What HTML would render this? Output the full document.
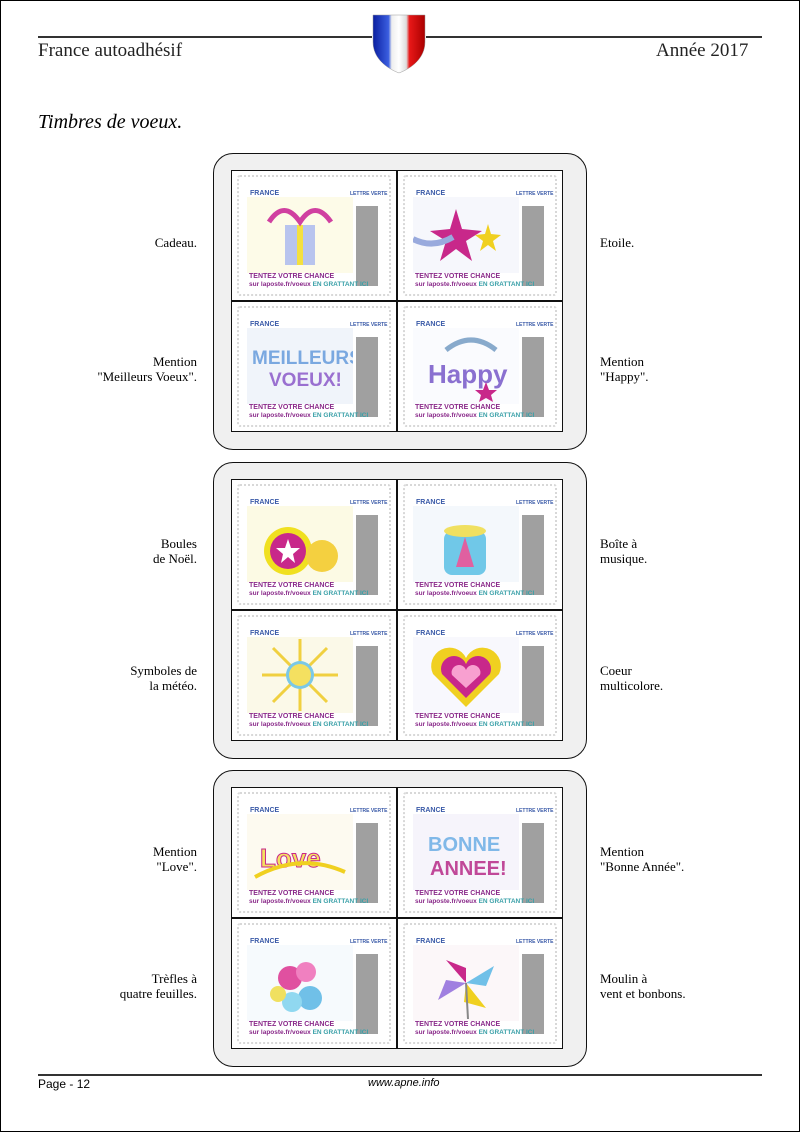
<!DOCTYPE html>
<html><head><meta charset="utf-8">
<style>
*{margin:0;padding:0;box-sizing:border-box}
body{width:800px;height:1132px;background:#fff;position:relative;overflow:hidden;font-family:"Liberation Serif",serif}
.frame{position:absolute;left:0;top:0;width:800px;height:1132px;border:1px solid #000}
.abs{position:absolute}
.hl{position:absolute;height:2px;background:#333}
.box{position:absolute;left:213px;width:374px;height:297px;border:1.5px solid #111;border-radius:20px;background:#f0f0f0}
.grid{position:absolute;left:17px;top:16px;width:332px;height:262px;border:1.5px solid #111;background:#111}
.cell{position:absolute;width:164px;height:129px;background:#fff;overflow:hidden}
.stamp{position:absolute;left:5px;top:4px;width:154px;height:121px;border:2px dotted #d8d8d8;border-radius:3px;background:#fff}
.fr{position:absolute;left:11px;top:13px;font:bold 7px "Liberation Sans",sans-serif;color:#3a5aa8}
.lv{position:absolute;left:111px;top:14px;font:bold 5px "Liberation Sans",sans-serif;color:#3a5aa8}
.gr{position:absolute;left:117px;top:29px;width:22px;height:80px;background:#a0a0a0}
.t1{position:absolute;left:10px;top:96px;font:bold 7px "Liberation Sans",sans-serif;color:#8a2a8a;white-space:nowrap}
.t2{position:absolute;left:10px;top:104px;font:bold 6.5px "Liberation Sans",sans-serif;color:#8a2a8a;white-space:nowrap}
.t2 b{color:#3aa0a8}
.art{position:absolute;left:8px;top:20px;width:106px;height:76px}
.lab{position:absolute;font-size:13px;line-height:15px;color:#000}
.l{right:603px;text-align:right}
.r{left:600px}
</style></head><body>
<div class="frame"></div>
<div class="hl" style="left:38px;top:36px;width:334px"></div>
<div class="hl" style="left:426px;top:36px;width:336px"></div>
<div class="abs" style="left:38px;top:40px;font-size:19px;color:#222">France autoadhésif</div>
<div class="abs" style="left:656px;top:40px;font-size:19px;color:#222">Année 2017</div>
<svg class="abs" style="left:372px;top:14px" width="54" height="60" viewBox="0 0 54 60">
<defs><linearGradient id="g" x1="0" x2="1"><stop offset="0" stop-color="#0a1fa0"/><stop offset=".3" stop-color="#3b5ee0"/><stop offset=".36" stop-color="#eee"/><stop offset=".5" stop-color="#fff"/><stop offset=".64" stop-color="#ddd"/><stop offset=".7" stop-color="#e81818"/><stop offset="1" stop-color="#a00"/></linearGradient></defs>
<path d="M1 1 H53 V28 C53 44 40 54 27 59 C14 54 1 44 1 28 Z" fill="url(#g)" stroke="#999" stroke-width=".5"/></svg>
<div class="abs" style="left:38px;top:111px;font-size:20px;font-style:italic">Timbres de voeux.</div>

<div id="c"></div>

<div class="hl" style="left:38px;top:1074px;width:724px"></div>
<div class="abs" style="left:38px;top:1077px;font:12px 'Liberation Sans',sans-serif">Page - 12</div>
<div class="abs" style="left:368px;top:1077px;font:italic 11px 'Liberation Sans',sans-serif">www.apne.info</div>

<script>
var tops=[153,462,770];
var labs=[["Cadeau.","Etoile.","Mention<br>\"Meilleurs Voeux\".","Mention<br>\"Happy\"."],
["Boules<br>de Noël.","Boîte à<br>musique.","Symboles de<br>la météo.","Coeur<br>multicolore."],
["Mention<br>\"Love\".","Mention<br>\"Bonne Année\".","Trèfles à<br>quatre feuilles.","Moulin à<br>vent et bonbons."]];
var arts=[
['<rect x="38" y="28" width="30" height="40" fill="#b8c4ee"/><rect x="50" y="28" width="6" height="40" fill="#f4e040"/><path d="M22 25 Q37 2 53 25 Q68 2 84 25" stroke="#d040a0" stroke-width="5" fill="none"/>','#fdfbe8'],
['<polygon points="43,12 49,32 69,34 53,44 59,64 43,52 27,64 33,44 17,34 37,32" fill="#c8288a"/><polygon points="75,27 78,37 88,38 80,44 83,54 75,48 67,54 70,44 62,38 72,37" fill="#f0d020"/><path d="M0 42 Q20 52 40 40" stroke="#9ad" stroke-width="6" fill="none"/>','#f6f7fc'],
['<text x="5" y="36" font-family="Liberation Sans" font-weight="bold" font-size="19" fill="#7aa8e0">MEILLEURS</text><text x="22" y="58" font-family="Liberation Sans" font-weight="bold" font-size="19" fill="#9a70d0">VOEUX!</text>','#f0f4fa'],
['<text x="15" y="55" font-family="Liberation Sans" font-weight="bold" font-size="26" fill="#8a70d0">Happy</text><path d="M33 22 Q58 2 83 22" stroke="#8ac" stroke-width="5" fill="none"/><polygon points="73,54 76,62 84,62 78,67 80,74 73,70 66,74 68,67 62,62 70,62" fill="#c8288a"/>','#fafbfe'],
['<circle cx="41" cy="45" r="24" fill="#f0e020"/><circle cx="41" cy="45" r="18" fill="#c8288a"/><polygon points="41,33 44,42 53,42 46,48 48,57 41,51 34,57 36,48 29,42 38,42" fill="#fff"/><circle cx="75" cy="50" r="16" fill="#f4d040"/>','#fcfae4'],
['<rect x="31" y="25" width="42" height="44" rx="8" fill="#70c8e8"/><polygon points="52,31 61,61 43,61" fill="#e060a0"/><ellipse cx="52" cy="25" rx="21" ry="6" fill="#f0e060"/>','#f4f8fc'],
['<g stroke="#f0d040" stroke-width="3"><line x1="53" y1="2" x2="53" y2="74"/><line x1="15" y1="38" x2="91" y2="38"/><line x1="26" y1="11" x2="80" y2="65"/><line x1="80" y1="11" x2="26" y2="65"/></g><circle cx="53" cy="38" r="14" fill="#7ac8e8"/><circle cx="53" cy="38" r="11" fill="#f4e060"/>','#fbf9e8'],
['<path d="M53 70 L20 37 A16 16 0 0 1 53 21 A16 16 0 0 1 86 37 Z" fill="#f0d020"/><path d="M53 61 L29 37 A11 11 0 0 1 53 27 A11 11 0 0 1 77 37 Z" fill="#c8288a"/><path d="M53 51 L39 38 A6 6 0 0 1 53 33 A6 6 0 0 1 67 38 Z" fill="#f8a0d0"/>','#f8f8fd'],
['<text x="13" y="53" font-family="Liberation Sans" font-weight="bold" font-size="26" fill="#f4e060" stroke="#c8288a" stroke-width="1">Love</text><path d="M8 63 Q53 38 98 58" stroke="#f0d020" stroke-width="4" fill="none"/>','#fdfaf0'],
['<text x="15" y="37" font-family="Liberation Sans" font-weight="bold" font-size="20" fill="#80b8e8">BONNE</text><text x="17" y="61" font-family="Liberation Sans" font-weight="bold" font-size="20" fill="#c04898">ANNEE!</text>','#f6f4fb'],
['<circle cx="43" cy="33" r="12" fill="#e050a0"/><circle cx="59" cy="27" r="10" fill="#f080c0"/><circle cx="63" cy="53" r="12" fill="#70c0e8"/><circle cx="45" cy="57" r="10" fill="#90d8f0"/><circle cx="31" cy="49" r="8" fill="#f0e060"/>','#f6fafd'],
['<polygon points="53,38 33,15 53,23" fill="#c8288a"/><polygon points="53,38 81,21 73,41" fill="#70c0e8"/><polygon points="53,38 73,63 51,57" fill="#f0d020"/><polygon points="53,38 25,55 33,35" fill="#a080e0"/><line x1="53" y1="38" x2="55" y2="74" stroke="#888" stroke-width="2"/>','#fcf7f9']];
var h='';
for(var b=0;b<3;b++){
 var T=tops[b];
 h+='<div class="box" style="top:'+T+'px"><div class="grid">';
 for(var i=0;i<4;i++){
  var cx=(i%2)*166, cy=Math.floor(i/2)*131, a=arts[b*4+i];
  h+='<div class="cell" style="left:'+cx+'px;top:'+cy+'px"><div class="stamp">'+
  '<div class="fr">FRANCE</div><div class="lv">LETTRE VERTE</div>'+
  '<svg class="art" viewBox="0 0 106 76"><rect width="106" height="76" fill="'+a[1]+'"/>'+a[0]+'</svg>'+
  '<div class="gr"></div><div class="t1">TENTEZ VOTRE CHANCE</div><div class="t2">sur laposte.fr/voeux <b>EN GRATTANT ICI</b></div></div></div>';
 }
 h+='</div></div>';
 var r1=T+82, r2=T+209;
 h+='<div class="lab l" style="top:'+(labs[b][0].indexOf('<br>')>0?r1-8:r1)+'px">'+labs[b][0]+'</div>';
 h+='<div class="lab r" style="top:'+(labs[b][1].indexOf('<br>')>0?r1-8:r1)+'px">'+labs[b][1]+'</div>';
 h+='<div class="lab l" style="top:'+(r2-8)+'px">'+labs[b][2]+'</div>';
 h+='<div class="lab r" style="top:'+(r2-8)+'px">'+labs[b][3]+'</div>';
}
document.getElementById('c').innerHTML=h;
</script>
</body></html>
